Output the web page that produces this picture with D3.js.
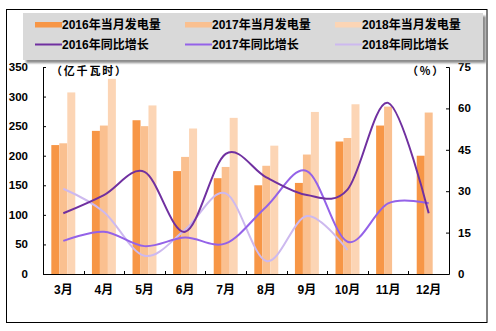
<!DOCTYPE html>
<html>
<head>
<meta charset="utf-8">
<script src="https://cdn.jsdelivr.net/npm/d3@7"></script>
<style>
  html, body { margin: 0; padding: 0; background: #fff; }
  svg text { font-family: "Liberation Sans", Arial, "Noto Sans CJK SC", sans-serif; font-weight: bold; fill: #000; }
  svg text.unit { font-family: "Noto Sans CJK SC", sans-serif; letter-spacing: 1.8px; }
</style>
</head>
<body>
<svg id="chart" width="496" height="331"></svg>
<script>
// Months shown on the category axis
const months = ["3月", "4月", "5月", "6月", "7月", "8月", "9月", "10月", "11月", "12月"];

// Monthly generation (亿千瓦时), left axis
const gen2016 = [218, 242, 260, 174, 162, 150, 154, 224, 251, 200];
const gen2017 = [221, 251, 250, 198, 181, 183, 202, 230, 283, 273];
const gen2018 = [307, 330, 285, 246, 264, 217, 274, 287, null, null];

// Year-on-year growth (%), right axis
const yoy2016 = [22.0, 28.6, 37.0, 15.3, 43.5, 35.0, 28.6, 30.6, 62.0, 22.0];
const yoy2017 = [12.0, 15.3, 10.1, 13.2, 11.1, 24.4, 37.3, 11.7, 25.6, 25.6];
const yoy2018 = [30.9, 22.5, 6.6, 16.0, 29.2, 4.7, 21.0, 8.7, null, null];

// Axis ticks
const leftTicks = [0, 50, 100, 150, 200, 250, 300, 350];
const rightTicks = [0, 15, 30, 45, 60, 75];

const barSeries = [
  { name: "2016年当月发电量", values: gen2016, color: "#F79646" },
  { name: "2017年当月发电量", values: gen2017, color: "#FAC090" },
  { name: "2018年当月发电量", values: gen2018, color: "#FCD5B5" }
];
const lineSeries = [
  { name: "2016年同比增长", values: yoy2016, color: "#7030A0" },
  { name: "2017年同比增长", values: yoy2017, color: "#9462E8" },
  { name: "2018年同比增长", values: yoy2018, color: "#CDB9EF" }
];

const svg = d3.select("#chart");
const plot = { left: 43, right: 449, top: 67, bottom: 274 };

// Outer frame
svg.append("rect")
  .attr("x", 6.5).attr("y", 9.5)
  .attr("width", 480.5).attr("height", 313)
  .attr("fill", "#fff").attr("stroke", "#000").attr("stroke-width", 1);

// Scales
const x = d3.scaleBand().domain(months).range([plot.left, plot.right]).padding(0);
const groupW = x.bandwidth() * 0.59;
const xs = d3.scaleBand().domain(barSeries.map(d => d.name)).range([0, groupW]).padding(0);
const yL = d3.scaleLinear().domain([0, 350]).range([plot.bottom, plot.top]);
const yR = d3.scaleLinear().domain([0, 75]).range([plot.bottom, plot.top]);

// Bars
const g = svg.append("g");
barSeries.forEach(s => {
  g.append("g").selectAll("rect")
    .data(months.map((m, i) => ({ m, v: s.values[i] })).filter(d => d.v != null))
    .join("rect")
    .attr("x", d => x(d.m) + (x.bandwidth() - groupW) / 2 + xs(s.name))
    .attr("y", d => yL(d.v))
    .attr("width", xs.bandwidth())
    .attr("height", d => yL(0) - yL(d.v))
    .attr("fill", s.color);
});

// Growth lines, smoothed
const line = d3.line()
  .defined(d => d.v != null)
  .x(d => x(d.m) + x.bandwidth() / 2)
  .y(d => yR(d.v))
  .curve(d3.curveCardinal.tension(0));
[...lineSeries].reverse().forEach(s => {
  g.append("path")
    .datum(months.map((m, i) => ({ m, v: s.values[i] })))
    .attr("d", line)
    .attr("fill", "none")
    .attr("stroke", s.color)
    .attr("stroke-width", 2);
});

// Left axis (inside ticks)
const leftAxis = d3.axisRight(yL).tickValues(leftTicks).tickSize(3).tickFormat("");
svg.append("g").attr("transform", `translate(${plot.left},0)`).call(leftAxis)
  .call(a => a.selectAll("path,line").attr("stroke", "#000"));
svg.append("g").selectAll("text").data(leftTicks).join("text")
  .attr("x", 28).attr("y", d => yL(d)).attr("dy", "0.35em")
  .attr("text-anchor", "end").attr("font-size", 11.5).text(d => d);

// Right axis (inside ticks)
const rightAxis = d3.axisLeft(yR).tickValues(rightTicks).tickSize(3).tickFormat("");
svg.append("g").attr("transform", `translate(${plot.right},0)`).call(rightAxis)
  .call(a => a.selectAll("path,line").attr("stroke", "#000"));
svg.append("g").selectAll("text").data(rightTicks).join("text")
  .attr("x", 458).attr("y", d => yR(d)).attr("dy", "0.35em")
  .attr("text-anchor", "start").attr("font-size", 11.5).text(d => d);

// Category axis with upward ticks at band edges
svg.append("line")
  .attr("x1", plot.left).attr("x2", plot.right)
  .attr("y1", plot.bottom + 0.5).attr("y2", plot.bottom + 0.5)
  .attr("stroke", "#000");
svg.append("g").selectAll("line").data(months.slice(1)).join("line")
  .attr("x1", d => Math.round(x(d)) + 0.5).attr("x2", d => Math.round(x(d)) + 0.5)
  .attr("y1", plot.bottom - 3).attr("y2", plot.bottom)
  .attr("stroke", "#000");
svg.append("g").selectAll("text").data(months).join("text")
  .attr("x", d => x(d) + x.bandwidth() / 2).attr("y", 290).attr("dy", "0.35em")
  .attr("text-anchor", "middle").attr("font-size", 12).text(d => d);

// Unit labels
svg.append("text").attr("class", "unit").attr("x", 51).attr("y", 71).attr("dy", "0.35em")
  .attr("font-size", 11).text("（亿千瓦时）");
svg.append("text").attr("class", "unit").attr("x", 407).attr("y", 71).attr("dy", "0.35em")
  .attr("font-size", 11).text("（%）");

// Legend box with drop shadow
const defs = svg.append("defs");
defs.append("filter").attr("id", "shadow").attr("x", "-5%").attr("y", "-20%")
  .attr("width", "110%").attr("height", "150%")
  .append("feGaussianBlur").attr("stdDeviation", 1.2);
svg.append("rect").attr("x", 26).attr("y", 16).attr("width", 460).attr("height", 47)
  .attr("fill", "#8c8c8c").attr("filter", "url(#shadow)");
svg.append("rect").attr("x", 23).attr("y", 13).attr("width", 460).attr("height", 47)
  .attr("fill", "#D9D9D9");

const colX = [35, 185, 335];
const swW = 27;
barSeries.forEach((s, i) => {
  svg.append("rect").attr("x", colX[i]).attr("y", 22).attr("width", swW).attr("height", 5.5)
    .attr("fill", s.color);
  svg.append("text").attr("x", colX[i] + swW).attr("y", 25).attr("dy", "0.35em")
    .attr("font-size", 12).text(s.name);
});
lineSeries.forEach((s, i) => {
  svg.append("line").attr("x1", colX[i]).attr("x2", colX[i] + swW)
    .attr("y1", 44.5).attr("y2", 44.5).attr("stroke", s.color).attr("stroke-width", 2);
  svg.append("text").attr("x", colX[i] + swW).attr("y", 45).attr("dy", "0.35em")
    .attr("font-size", 12).text(s.name);
});
</script>
</body>
</html>
